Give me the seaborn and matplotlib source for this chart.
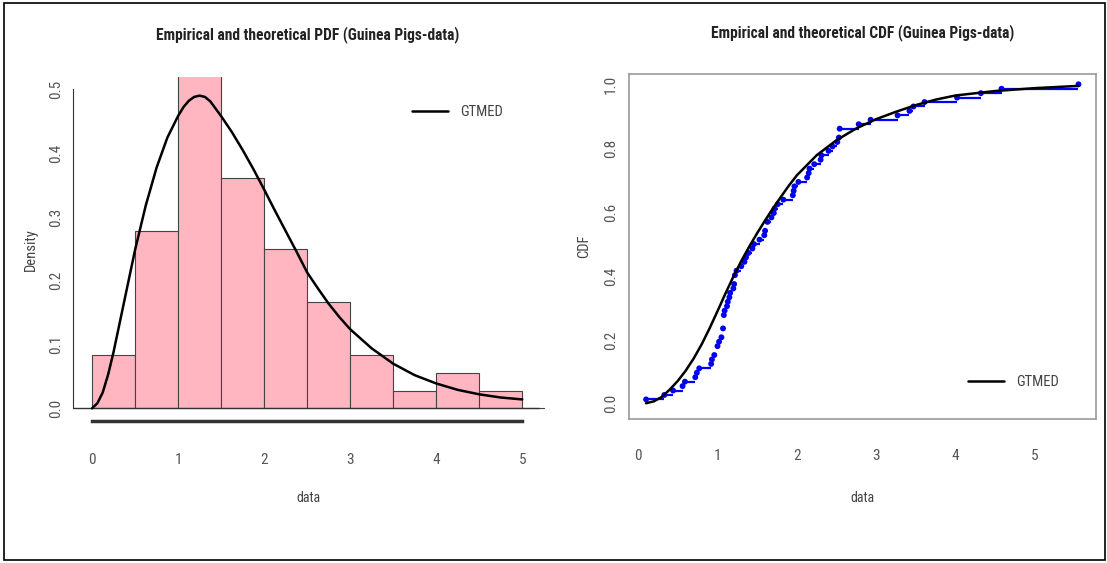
import numpy as np
import pandas as pd
import matplotlib
matplotlib.use("Agg")
import matplotlib.pyplot as plt
import seaborn as sns
from matplotlib.patches import Rectangle

# survival times of guinea pigs (days / 100)
guinea_pigs = [0.10, 0.33, 0.44, 0.56, 0.59, 0.72, 0.74, 0.77, 0.92, 0.93, 0.96, 1.00,
               1.00, 1.02, 1.05, 1.07, 1.07, 1.08, 1.08, 1.08, 1.09, 1.12, 1.13, 1.15,
               1.16, 1.20, 1.21, 1.22, 1.22, 1.24, 1.30, 1.34, 1.36, 1.39, 1.44, 1.46,
               1.53, 1.59, 1.60, 1.63, 1.63, 1.68, 1.71, 1.72, 1.76, 1.83, 1.95, 1.96,
               1.97, 2.02, 2.13, 2.15, 2.16, 2.22, 2.30, 2.31, 2.40, 2.45, 2.51, 2.53,
               2.54, 2.54, 2.78, 2.93, 3.27, 3.42, 3.47, 3.61, 4.02, 4.32, 4.58, 5.55]

# histogram breaks (right-closed, like R) and counts per class
hist_breaks = [0.0, 0.5, 1.0, 1.5, 2.0, 2.5, 3.0, 3.5, 4.0, 4.5, 5.0, 5.5, 6.0]
hist_counts = [3, 10, 23, 13, 9, 6, 3, 1, 2, 1, 0, 1]

# fitted GTMED density
pdf_x = [0.0, 0.0625, 0.125, 0.1875, 0.25, 0.375, 0.5, 0.625, 0.75, 0.875, 1.0, 1.0625,
         1.125, 1.1875, 1.25, 1.3125, 1.375, 1.5, 1.625, 1.75, 1.875, 2.0, 2.125, 2.25,
         2.375, 2.5, 2.625, 2.75, 2.875, 3.0, 3.25, 3.5, 3.75, 4.0, 4.25, 4.5, 4.75, 5.0]
pdf_y = [0.000, 0.008, 0.025, 0.053, 0.088, 0.168, 0.248, 0.318, 0.377, 0.424, 0.458, 0.472,
         0.482, 0.488, 0.490, 0.488, 0.481, 0.458, 0.433, 0.405, 0.375, 0.343, 0.310, 0.278,
         0.246, 0.213, 0.188, 0.164, 0.143, 0.124, 0.094, 0.070, 0.052, 0.039, 0.029, 0.022,
         0.017, 0.014]

# fitted GTMED distribution function
cdf_x = [0.10, 0.20, 0.30, 0.40, 0.50, 0.60, 0.70, 0.80, 0.90, 1.00, 1.10, 1.20, 1.30,
         1.40, 1.50, 1.60, 1.70, 1.80, 1.90, 2.00, 2.25, 2.50, 2.75, 3.00, 3.25, 3.50,
         3.75, 4.00, 4.50, 5.00, 5.55]
cdf_y = [0.002, 0.008, 0.022, 0.045, 0.072, 0.104, 0.142, 0.186, 0.236, 0.290, 0.345,
         0.398, 0.447, 0.492, 0.534, 0.574, 0.612, 0.648, 0.683, 0.715, 0.778, 0.825,
         0.862, 0.891, 0.914, 0.935, 0.952, 0.965, 0.979, 0.988, 0.995]

sns.set_style("white")
plt.rcParams["font.family"] = ["Roboto Condensed", "Liberation Sans", "DejaVu Sans"]

fig = plt.figure(figsize=(11.07, 5.63), dpi=100)
ax1 = fig.add_axes([0.066, 0.252, 0.426, 0.611])
ax2 = fig.add_axes([0.568, 0.256, 0.422, 0.613])

grey = "#555555"

# ---- left panel: histogram + density
mids = [(a + b) / 2 for a, b in zip(hist_breaks[:-1], hist_breaks[1:])]
sns.histplot(x=mids, weights=hist_counts, bins=hist_breaks, stat="density",
             color="#FFB6C1", edgecolor="#444444", linewidth=0.8, alpha=1, ax=ax1)
ax1.hlines(0, -0.22, 5.2, color="#333333", linewidth=1.0)
sns.lineplot(x=pdf_x, y=pdf_y, color="black", linewidth=1.8, ax=ax1, label="GTMED")

ax1.set_xlim(-0.22, 5.26)
ax1.set_ylim(-0.02, 0.519)
for s in ["top", "right"]:
    ax1.spines[s].set_visible(False)
ax1.spines["left"].set_bounds(0, 0.5)
ax1.spines["bottom"].set_bounds(0, 5)
ax1.spines["bottom"].set_linewidth(2.5)
ax1.spines["left"].set_color("#333333")
ax1.spines["bottom"].set_color("#333333")
ax1.set_xticks(range(6))
ax1.set_yticks([0, 0.1, 0.2, 0.3, 0.4, 0.5])
ax1.set_yticklabels(["0.0", "0.1", "0.2", "0.3", "0.4", "0.5"], rotation=90, va="center")
ax1.tick_params(axis="x", length=7, width=1.2, colors="#333333", labelcolor=grey,
                labelsize=11, pad=16)
ax1.tick_params(axis="y", length=5, width=1, colors="#333333", labelcolor=grey,
                labelsize=11, pad=2)
ax1.set_xlabel("data", fontsize=10, color="#444444", labelpad=17)
ax1.set_ylabel("Density", fontsize=10.5, color="#444444", labelpad=8)
ax1.legend(loc="center left", bbox_to_anchor=(412 / 1107, 1 - 112 / 563),
           bbox_transform=fig.transFigure, frameon=False, fontsize=10.5,
           handlelength=2.45, handletextpad=0.86, borderpad=0, borderaxespad=0,
           labelcolor="#444444")

# ---- right panel: empirical vs theoretical cdf
vals, cnt = np.unique(guinea_pigs, return_counts=True)
ecdf = pd.DataFrame({"x": vals, "F": np.cumsum(cnt) / len(guinea_pigs)})
ax2.hlines(ecdf["F"][:-1], ecdf["x"][:-1], ecdf["x"][1:], color="#0000FF", linewidth=1.6)
sns.scatterplot(data=ecdf, x="x", y="F", color="#0000EE", s=18, edgecolor="none", ax=ax2)
sns.lineplot(x=cdf_x, y=cdf_y, color="black", linewidth=1.8, ax=ax2, label="GTMED")

ax2.set_xlim(-0.118, 5.77)
ax2.set_ylim(-0.047, 1.033)
for s in ax2.spines.values():
    s.set_color("#999999")
    s.set_linewidth(1.2)
ax2.set_xticks(range(6))
ax2.set_yticks([0, 0.2, 0.4, 0.6, 0.8, 1.0])
ax2.set_yticklabels(["0.0", "0.2", "0.4", "0.6", "0.8", "1.0"], rotation=90, va="center")
ax2.tick_params(axis="x", length=5, width=1, colors="#777777", labelcolor=grey,
                labelsize=11, pad=17)
ax2.tick_params(axis="y", length=5, width=1, colors="#777777", labelcolor=grey,
                labelsize=11, pad=3)
ax2.set_xlabel("data", fontsize=10, color="#444444", labelpad=20)
ax2.set_ylabel("CDF", fontsize=10.5, color="#444444", labelpad=9)
ax2.legend(loc="center left", bbox_to_anchor=(968 / 1107, 1 - 382 / 563),
           bbox_transform=fig.transFigure, frameon=False, fontsize=10.5,
           handlelength=2.45, handletextpad=0.86, borderpad=0, borderaxespad=0,
           labelcolor="#444444")

fig.text(308 / 1107, 1 - 35 / 563, "Empirical and theoretical PDF (Guinea Pigs-data)",
         ha="center", va="center", fontsize=11.2, fontweight="bold", color="#222222")
fig.text(863 / 1107, 1 - 33 / 563, "Empirical and theoretical CDF (Guinea Pigs-data)",
         ha="center", va="center", fontsize=11.2, fontweight="bold", color="#222222")

fig.patches.append(Rectangle((0.004, 0.006), 0.994, 0.988, transform=fig.transFigure,
                             fill=False, edgecolor="black", linewidth=1.2))

fig.savefig("out.png", dpi=100)
